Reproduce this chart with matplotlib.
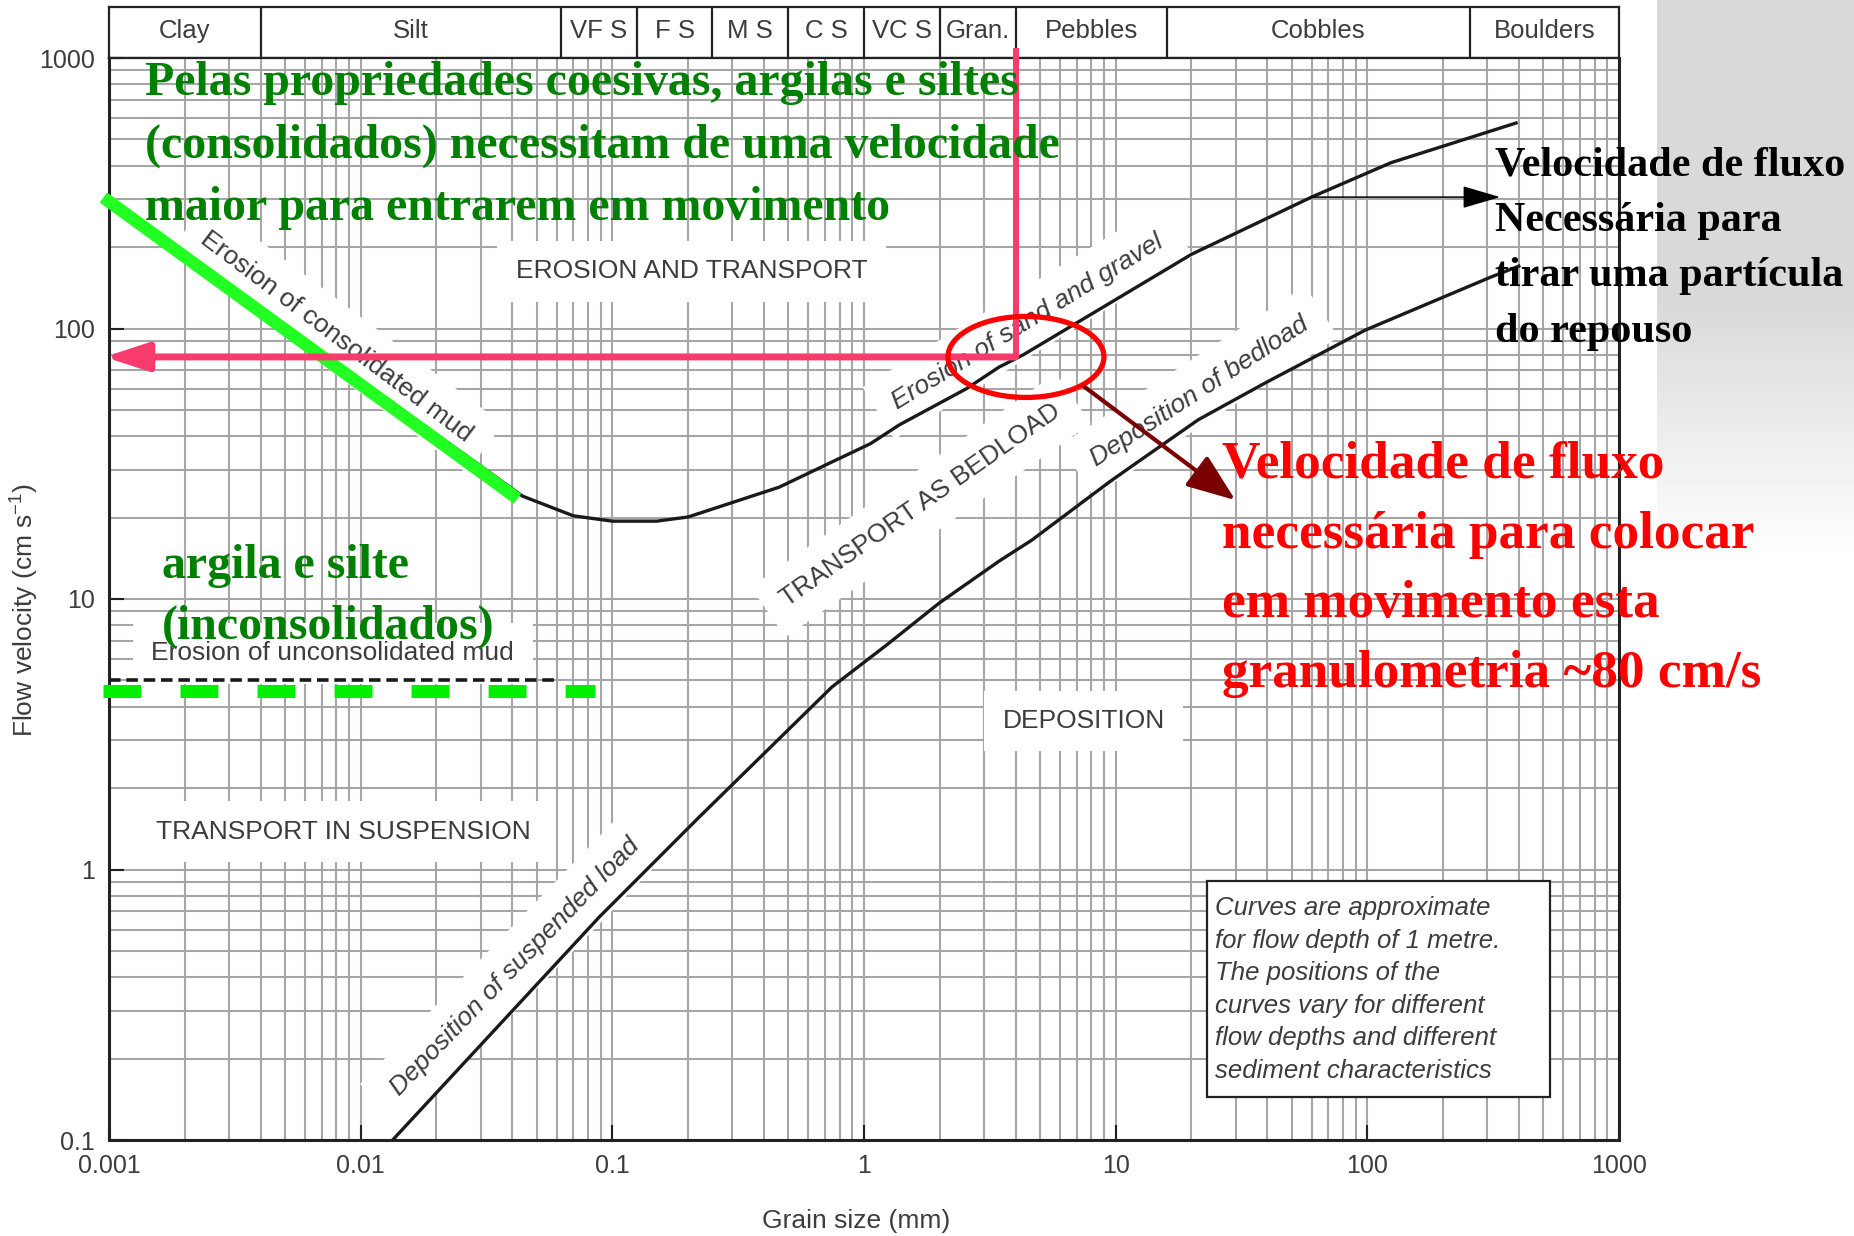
import numpy as np
import matplotlib
matplotlib.use('Agg')
from matplotlib import pyplot as plt
from matplotlib.patches import Ellipse, Rectangle
from matplotlib.ticker import FixedLocator, LogLocator, NullFormatter, NullLocator

plt.rcParams['font.family'] = ['Liberation Sans', 'DejaVu Sans']
plt.rcParams['mathtext.default'] = 'regular'

# grain size classes (mm) shown in the header strip
class_names = ['Clay', 'Silt', 'VF S', 'F S', 'M S', 'C S', 'VC S', 'Gran.', 'Pebbles', 'Cobbles', 'Boulders']
class_edges = [0.001, 0.004, 0.0625, 0.125, 0.25, 0.5, 1, 2, 4, 16, 256, 1000]

# erosion curve: consolidated mud -> sand and gravel (mm, cm/s)
erosion_d = [0.001, 0.044, 0.07, 0.1, 0.15, 0.2, 0.46, 0.73, 1.06, 1.38, 2.56, 3.44, 4.3, 20, 60, 124, 390]
erosion_v = [300, 24, 20.3, 19.4, 19.4, 20.1, 25.9, 31.8, 37.5, 44, 60, 72, 80, 188, 306, 410, 575]

# deposition curve: suspended load -> bedload
depo_d = [0.0134, 0.0887, 0.221, 0.746, 1.24, 1.99, 3.44, 4.64, 9.4, 11.6, 21.3, 39.4, 98, 310, 400]
depo_v = [0.1, 0.667, 1.56, 4.73, 6.8, 9.66, 13.8, 16.5, 27, 31, 46, 63, 98.6, 155, 170]

# unconsolidated mud threshold
uncons_d = [0.001, 0.06]
uncons_v = [5, 5]

# green highlights added on the slide
green_line_d = [0.00095, 0.042]
green_line_v = [305, 23.5]
green_dash_d = [0.00095, 0.085]
green_dash_v = [4.57, 4.57]

# the ~80 cm/s reading at 4 mm
focus_d, focus_v = 4.0, 78.5
focus_top_v = 1090
focus_tip_d = 0.00096
circle_d = 4.4

x_ticks = [0.001, 0.01, 0.1, 1, 10, 100, 1000]
x_tick_labels = ['0.001', '0.01', '0.1', '1', '10', '100', '1000']
y_ticks = [0.1, 1, 10, 100, 1000]
y_tick_labels = ['0.1', '1', '10', '100', '1000']

W, H = 1854, 1236
fig = plt.figure(figsize=(W / 100, H / 100), dpi=100)

def px_text(x, y, s, **kw):
    return fig.text(x / W, 1 - y / H, s, **kw)

# grey slide background at the right
bg = fig.add_axes([1657 / W, 1 - 560 / H, (W - 1657) / W, 560 / H], zorder=-5)
grad = np.concatenate([np.full(300, 0.85), np.linspace(0.85, 1.0, 260)])
bg.imshow(grad[:, None], cmap='gray', vmin=0, vmax=1, aspect='auto', extent=(0, 1, 0, 1))
bg.axis('off')

L, R = 109, 1619
T_head, T, B = 7, 58, 1140
dark = '#222222'
txt = '#3c3c3c'

# header strip
hax = fig.add_axes([L / W, 1 - T / H, (R - L) / W, (T - T_head) / H])
hax.set_xscale('log')
hax.set_xlim(1e-3, 1e3)
hax.set_ylim(0, 1)
hax.xaxis.set_major_locator(NullLocator())
hax.xaxis.set_minor_locator(NullLocator())
hax.set_yticks([])
for sp in hax.spines.values():
    sp.set_linewidth(1.6)
    sp.set_color(dark)
for e in class_edges[1:-1]:
    hax.axvline(e, color=dark, lw=1.6)
for name, lo, hi in zip(class_names, class_edges[:-1], class_edges[1:]):
    hax.text(np.sqrt(lo * hi), 0.52, name, ha='center', va='center', fontsize=18.5, color=txt)

# main chart
ax = fig.add_axes([L / W, 1 - B / H, (R - L) / W, (B - T) / H])
ax.set_xscale('log')
ax.set_yscale('log')
ax.set_xlim(1e-3, 1e3)
ax.set_ylim(0.1, 1000)
ax.xaxis.set_major_locator(FixedLocator(x_ticks))
ax.set_xticklabels(x_tick_labels)
ax.yaxis.set_major_locator(FixedLocator(y_ticks))
ax.set_yticklabels(y_tick_labels)
ax.xaxis.set_minor_locator(LogLocator(base=10, subs=np.arange(2, 10), numticks=100))
ax.yaxis.set_minor_locator(LogLocator(base=10, subs=np.arange(2, 10), numticks=100))
ax.xaxis.set_minor_formatter(NullFormatter())
ax.yaxis.set_minor_formatter(NullFormatter())
ax.grid(which='both', color='#a6a6a6', lw=1.5)
ax.set_axisbelow(True)
ax.tick_params(which='major', direction='in', length=11, width=1.5, color=dark,
               labelsize=18, labelcolor=txt, pad=10)
ax.tick_params(which='minor', length=0)
for side in ['left', 'bottom', 'right']:
    ax.spines[side].set_linewidth(2.2)
    ax.spines[side].set_color(dark)
ax.spines['top'].set_linewidth(1.6)
ax.spines['top'].set_color(dark)

ax.set_xlabel('Grain size (mm)', fontsize=19, color=txt)
ax.xaxis.set_label_coords(0.495, -0.075)
ax.xaxis.label.set_va('center')
ax.set_ylabel('Flow velocity (cm s$^{-1}$)', fontsize=19, color=txt)
ax.yaxis.set_label_coords(-0.056, 0.49)
ax.yaxis.label.set_va('center')

# curves
ax.plot(erosion_d, erosion_v, color='#1a1a1a', lw=2.4, zorder=4)
ax.plot(depo_d, depo_v, color='#1a1a1a', lw=2.4, zorder=4)
ax.plot(uncons_d, uncons_v, color='#1a1a1a', lw=2.6, dashes=(3.2, 1.6), zorder=4)

# region and curve labels
box = dict(boxstyle='square,pad=0.7', fc='white', ec='none')
lab = dict(fontsize=19, color=txt, ha='center', va='center', zorder=3, bbox=box,
           rotation_mode='anchor')
ax.text(0.206, 163, 'EROSION AND TRANSPORT', **lab)
ax.text(0.0085, 1.38, 'TRANSPORT IN SUSPENSION', **lab)
ax.text(7.46, 3.54, 'DEPOSITION', **lab)
ax.text(0.00775, 6.3, 'Erosion of unconsolidated mud', **dict(lab, bbox=dict(box, pad=0.35)))
slim = dict(lab, bbox=dict(box, pad=0.3))
ax.text(0.00803, 93, 'Erosion of consolidated mud', rotation=-37, **slim)
ax.text(4.48, 106, 'Erosion of sand and gravel', rotation=31.5, style='italic', **slim)
ax.text(1.68, 22.2, 'TRANSPORT AS BEDLOAD', rotation=35, **slim)
ax.text(21.5, 58.7, 'Deposition of bedload', rotation=33, style='italic', **slim)
ax.text(0.0412, 0.436, 'Deposition of suspended load', rotation=46, style='italic', **slim)

# note box
ax.add_patch(Rectangle((0.727, 0.0397), 0.227, 0.1997, transform=ax.transAxes,
                       fc='white', ec=dark, lw=1.6, zorder=5))
note_lines = ['Curves are approximate', 'for flow depth of 1 metre.', 'The positions of the',
              'curves vary for different', 'flow depths and different', 'sediment characteristics']
for i, line in enumerate(note_lines):
    px_text(1215, 915 + i * 32.6, line, fontsize=18.5, style='italic', color=txt,
            va='baseline', ha='left', zorder=6)

# slide annotations
green = '#22ff22'
ax.plot(green_line_d, green_line_v, color=green, lw=9, solid_capstyle='butt',
        clip_on=False, zorder=6)
ax.plot(green_dash_d, green_dash_v, color='#00ee00', lw=9.4, dashes=(2.9, 3.0),
        dash_capstyle='butt', clip_on=False, zorder=6)

pink = '#f83a6c'
ax.plot([focus_d, focus_d], [focus_v, focus_top_v], color=pink, lw=4.3,
        solid_capstyle='butt', clip_on=False, zorder=7)
ax.annotate('', xy=(focus_tip_d, focus_v), xytext=(focus_d, focus_v),
            arrowprops=dict(arrowstyle='-|>,head_length=2.6,head_width=0.85', mutation_scale=10,
                            lw=5, color=pink, shrinkA=0, shrinkB=0),
            annotation_clip=False, zorder=7)

cx, cy = ax.transAxes.inverted().transform(ax.transData.transform((circle_d, focus_v)))
ax.add_patch(Ellipse((cx, cy), 156 / (R - L), 81 / (B - T), transform=ax.transAxes,
                     fill=False, ec='#ff0000', lw=3.8, zorder=8, clip_on=False))

ax.annotate('', xy=(29.9, 23.2), xytext=(7.53, 60.8),
            arrowprops=dict(arrowstyle='-|>,head_length=3.0,head_width=1.15', mutation_scale=10,
                            lw=3, color='#7a0000', shrinkA=0, shrinkB=0), zorder=8)
ax.annotate('', xy=(337, 306), xytext=(60, 306),
            arrowprops=dict(arrowstyle='-|>,head_length=3.4,head_width=1.0', mutation_scale=7,
                            lw=1.1, color='black', shrinkA=0, shrinkB=0), zorder=8)

serif = dict(family=['Liberation Serif', 'DejaVu Serif'], weight='bold', va='baseline', ha='left', zorder=9)
green_txt = '#008000'
top_lines = ['Pelas propriedades coesivas, argilas e siltes',
             '(consolidados) necessitam de uma velocidade',
             'maior para entrarem em movimento']
for i, line in enumerate(top_lines):
    px_text(145, 95 + i * 62.5, line, fontsize=34.5, color=green_txt, **serif)

low_lines = ['argila e silte', '(inconsolidados)']
for i, line in enumerate(low_lines):
    px_text(162, 578 + i * 61, line, fontsize=34.5, color=green_txt, **serif)

black_lines = ['Velocidade de fluxo', 'Necessária para', 'tirar uma partícula', 'do repouso']
for i, line in enumerate(black_lines):
    px_text(1495, 175 + i * 55.7, line, fontsize=30.3, color='black', **serif)

red_lines = ['Velocidade de fluxo', 'necessária para colocar', 'em movimento esta',
             'granulometria ~80 cm/s']
for i, line in enumerate(red_lines):
    px_text(1222, 478 + i * 69.7, line, fontsize=38.3, color='#ff0000', **serif)

fig.savefig('out.png', dpi=100, facecolor='white')
